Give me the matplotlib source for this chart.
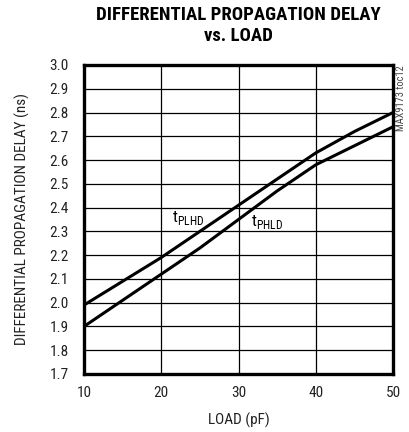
import matplotlib
matplotlib.use("Agg")
import matplotlib.pyplot as plt

plt.rcParams['font.family'] = ['Roboto Condensed', 'DejaVu Sans']
plt.rcParams['mathtext.fontset'] = 'custom'
plt.rcParams['mathtext.rm'] = 'Roboto Condensed'

load_pf = [10, 15, 20, 25, 30, 35, 40, 45, 50]
t_plhd = [1.99, 2.09, 2.19, 2.30, 2.41, 2.52, 2.63, 2.72, 2.80]
t_phld = [1.90, 2.01, 2.12, 2.23, 2.35, 2.47, 2.58, 2.66, 2.74]

x_ticks = [10, 20, 30, 40, 50]
y_ticks = [1.7, 1.8, 1.9, 2.0, 2.1, 2.2, 2.3, 2.4, 2.5, 2.6, 2.7, 2.8, 2.9, 3.0]

fig = plt.figure(figsize=(4.09, 4.32), dpi=100)
ax = fig.add_axes([0.2054, 0.1343, 0.7555, 0.7153])

ax.plot(load_pf, t_plhd, color="black", linewidth=2.2, solid_capstyle="butt")
ax.plot(load_pf, t_phld, color="black", linewidth=2.2, solid_capstyle="butt")

ax.set_xlim(10, 50)
ax.set_ylim(1.7, 3.0)
ax.set_xticks(x_ticks)
ax.set_yticks(y_ticks)
ax.set_yticklabels([f"{v:.1f}" for v in y_ticks])
ax.grid(True, color="black", linewidth=0.9)
ax.tick_params(length=0, labelsize=11, colors="#222222")
ax.tick_params(axis="y", pad=11)
ax.tick_params(axis="x", pad=9)
for s in ax.spines.values():
    s.set_linewidth(2.4)

ax.set_xlabel("LOAD (pF)", fontsize=11, color="#222222", labelpad=9)
ax.set_ylabel("DIFFERENTIAL PROPAGATION DELAY (ns)", fontsize=11,
              color="#222222", labelpad=14)

ax.text(21.4, 2.355, r"t$_{\mathrm{PLHD}}$", fontsize=12, ha="left", va="center")
ax.text(31.6, 2.34, r"t$_{\mathrm{PHLD}}$", fontsize=12, ha="left", va="center")

fig.text(0.583, 0.985, "DIFFERENTIAL PROPAGATION DELAY\nvs. LOAD", ha="center",
         va="top", fontsize=13.5, fontweight="bold", linespacing=1.15)
fig.text(0.981, 0.85, "MAX9173 toc12", rotation=90, ha="center", va="top",
         fontsize=7.5, color="#444444")

fig.savefig("out.png", dpi=100)
